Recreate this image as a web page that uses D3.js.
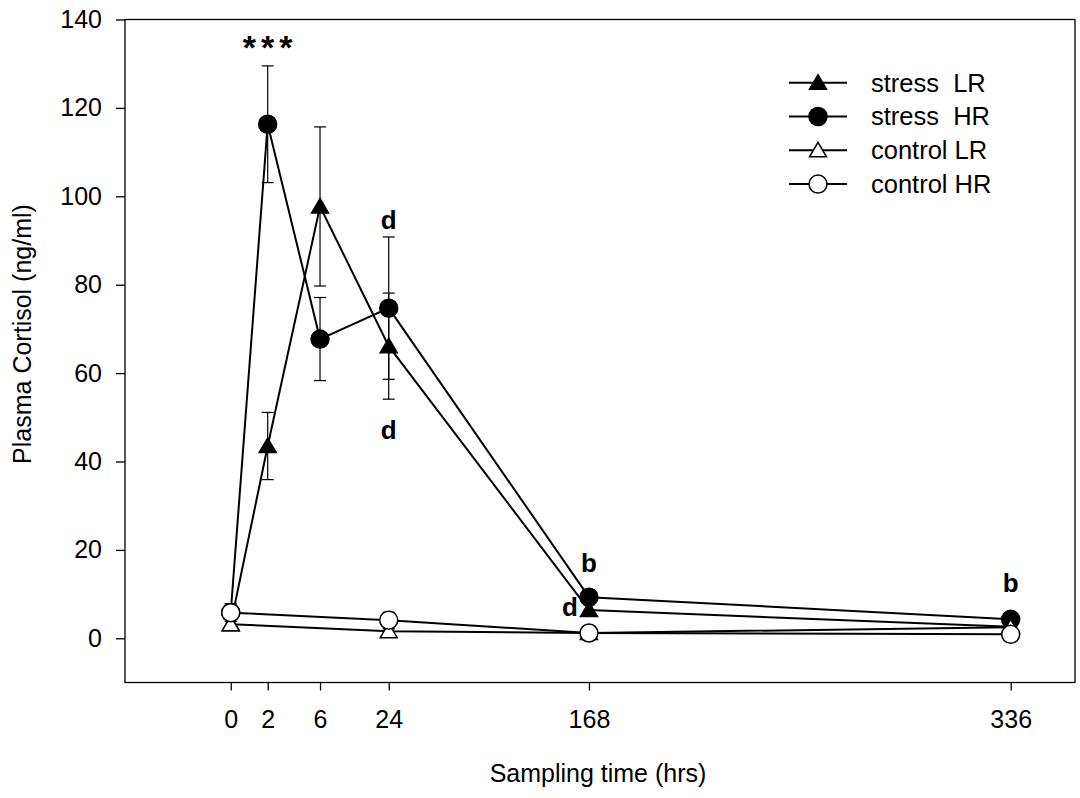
<!DOCTYPE html>
<meta charset="utf-8">
<style>
body {
  margin: 0;
  background: #fff;
  font-family: "Liberation Sans", Arial, sans-serif;
}
.axis text {
  font-size: 25px;
  fill: #000;
  font-family: "Liberation Sans", Arial, sans-serif;
}
.axis path, .axis line {
  stroke: #000;
  stroke-width: 1.3px;
}
.series {
  fill: none;
  stroke: #000;
  stroke-width: 2px;
}
.err {
  stroke: #000;
  stroke-width: 1.2px;
}
.note {
  font-weight: bold;
  font-size: 26px;
  text-anchor: middle;
}
</style>
<body>
<script src="https://cdn.jsdelivr.net/npm/d3@7"></script>
<script>

// sampling times (hrs)
var stressTimes = [0, 2, 6, 24, 168, 336];
var controlTimes = [0, 24, 168, 336];

// plasma cortisol means and SE (ng/ml)
var stressLR = [3.2, 43.5, 97.7, 66.1, 6.4, 2.6];
var stressLRerr = [1.3, 7.6, 18.0, 12.0, 1.2, 0.5];
var stressHR = [5.8, 116.3, 67.7, 74.7, 9.3, 4.3];
var stressHRerr = [2.0, 13.2, 9.4, 16.1, 1.6, 0.6];
var controlLR = [3.2, 1.6, 1.2, 2.5];
var controlLRerr = [1.3, 0.5, 0.4, 0.3];
var controlHR = [5.8, 4.1, 1.2, 0.9];
var controlHRerr = [2.0, 1.8, 0.5, 0.4];

var xTicks = [0, 2, 6, 24, 168, 336];
var yTicks = [0, 20, 40, 60, 80, 100, 120, 140];

// significance letters
var noteText = ["***", "d", "d", "b", "d", "b"];
var noteTime = [2, 24, 24, 168, 168, 336];
var noteValue = [131, 92.7, 45, 15.1, 5.0, 10.4];

var series = [
  {name: "stress  LR", t: stressTimes, v: stressLR, e: stressLRerr, shape: "tri", fill: "#000"},
  {name: "stress  HR", t: stressTimes, v: stressHR, e: stressHRerr, shape: "circ", fill: "#000"},
  {name: "control LR", t: controlTimes, v: controlLR, e: controlLRerr, shape: "tri", fill: "#fff"},
  {name: "control HR", t: controlTimes, v: controlHR, e: controlHRerr, shape: "circ", fill: "#fff"}
];

var W = 1080, H = 798;
var pLeft = 125, pRight = 1075, pTop = 19.5, pBottom = 682.5;

var svg = d3.select("body").append("svg")
  .attr("width", W)
  .attr("height", H);

// the time axis is not linear, each tick has its own spot along the axis
var xFrac = [0.1113, 0.1502, 0.2053, 0.2776, 0.4884, 0.9323];
var x = d3.scaleLinear()
  .domain(xTicks)
  .range(xFrac.map(function (f) { return pLeft + f * (pRight - pLeft); }));

var y = d3.scaleLinear()
  .domain([-10, 140])
  .range([pBottom, pTop]);

// frame
svg.append("rect")
  .attr("x", pLeft).attr("y", pTop)
  .attr("width", pRight - pLeft).attr("height", pBottom - pTop)
  .attr("fill", "none").attr("stroke", "#000").attr("stroke-width", 1.3);

svg.append("g")
  .attr("class", "axis")
  .attr("transform", "translate(0," + pBottom + ")")
  .call(d3.axisBottom(x).tickValues(xTicks).tickSize(8).tickPadding(20).tickFormat(d3.format("d")))
  .call(function (g) { g.select(".domain").remove(); });

svg.append("g")
  .attr("class", "axis")
  .attr("transform", "translate(" + pLeft + ",0)")
  .call(d3.axisLeft(y).tickValues(yTicks).tickSize(9).tickPadding(14))
  .call(function (g) { g.select(".domain").remove(); });

// axis titles
svg.append("text")
  .attr("x", (pLeft + pRight) / 2 - 2)
  .attr("y", 782)
  .attr("text-anchor", "middle")
  .style("font-size", "25px")
  .text("Sampling time (hrs)");

svg.append("text")
  .attr("transform", "translate(31,334) rotate(-90)")
  .attr("text-anchor", "middle")
  .style("font-size", "25px")
  .text("Plasma Cortisol (ng/ml)");

var line = d3.line()
  .x(function (d) { return x(d[0]); })
  .y(function (d) { return y(d[1]); });

function pairs(s) {
  return s.t.map(function (t, i) { return [t, s.v[i], s.e[i]]; });
}

function drawMarker(g, shape, fill, cx, cy) {
  if (shape === "circ") {
    g.append("circle")
      .attr("cx", cx).attr("cy", cy).attr("r", 9)
      .attr("fill", fill).attr("stroke", "#000").attr("stroke-width", 1.5);
  } else {
    g.append("path")
      .attr("d", "M" + cx + "," + (cy - 8) + " L" + (cx + 8.5) + "," + (cy + 6.5) + " L" + (cx - 8.5) + "," + (cy + 6.5) + " Z")
      .attr("fill", fill).attr("stroke", "#000").attr("stroke-width", 1.5);
  }
}

// error bars first
series.forEach(function (s) {
  var g = svg.append("g");
  pairs(s).forEach(function (d) {
    var cx = x(d[0]), y1 = y(d[1] + d[2]), y2 = y(d[1] - d[2]);
    g.append("line").attr("class", "err").attr("x1", cx).attr("x2", cx).attr("y1", y1).attr("y2", y2);
    g.append("line").attr("class", "err").attr("x1", cx - 6).attr("x2", cx + 6).attr("y1", y1).attr("y2", y1);
    g.append("line").attr("class", "err").attr("x1", cx - 6).attr("x2", cx + 6).attr("y1", y2).attr("y2", y2);
  });
});

// lines
series.forEach(function (s) {
  svg.append("path")
    .attr("class", "series")
    .attr("d", line(pairs(s)));
});

// markers, drawn in order so the open ones sit on top
series.forEach(function (s) {
  var g = svg.append("g");
  pairs(s).forEach(function (d) {
    drawMarker(g, s.shape, s.fill, x(d[0]), y(d[1]));
  });
});

// significance notes
noteText.forEach(function (t, i) {
  var tx = x(noteTime[i]);
  if (t === "d" && noteTime[i] === 168) tx -= 19;
  var el = svg.append("text")
    .attr("class", "note")
    .attr("x", tx)
    .attr("y", y(noteValue[i]))
    .text(t);
  if (t === "***") {
    el.style("font-size", "34px").style("letter-spacing", "5px").attr("dx", 2.5);
  }
});

// legend
var legend = svg.append("g");
series.forEach(function (s, i) {
  var ly = 82.7 + i * 33.8;
  legend.append("line")
    .attr("x1", 789).attr("x2", 847)
    .attr("y1", ly).attr("y2", ly)
    .attr("stroke", "#000").attr("stroke-width", 2);
  drawMarker(legend, s.shape, s.fill, 818, ly);
  legend.append("text")
    .attr("x", 871)
    .attr("y", ly)
    .attr("dy", "0.35em")
    .style("font-size", "25.5px")
    .style("white-space", "pre")
    .attr("xml:space", "preserve")
    .text(s.name);
});

</script>
</body>
